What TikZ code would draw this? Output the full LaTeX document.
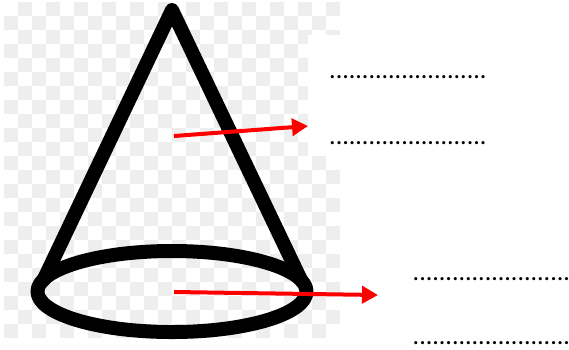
\documentclass[tikz,border=0pt]{standalone}
\usepackage{fontspec}
\setmainfont{Carlito}
\usepackage{xcolor}
\usetikzlibrary{arrows.meta}
\definecolor{chkgrey}{HTML}{EEEEEE}
\definecolor{arrred}{HTML}{FF0000}
\newcommand{\blankrow}{........................}
\tikzset{
  conestroke/.style={draw=black, line width=14pt, line join=round, line cap=round},
  redarrow/.style={-{Triangle[length=16pt,width=17pt]}, line width=4pt, color=arrred},
  blanklabel/.style={anchor=base west, inner sep=0pt, font=\fontsize{26}{28}\selectfont}
}
\begin{document}
\begin{tikzpicture}[x=1pt,y=-1pt]
    \useasboundingbox (0,0) rectangle (569,349);
    % checker background
    \foreach \row in {0,...,23} {
      \foreach \col in {0,...,23} {
        \pgfmathparse{int(mod(\row+\col,2))}
        \ifnum\pgfmathresult=1
          \fill[chkgrey] ({4+14*\col},{2+14*\row}) rectangle ++(14,14);
        \fi
      }
    }
    \fill[white] (308,35) rectangle (341,156);
    % cone
    \draw[conestroke] (43.5,280) -- (172,10) -- (301,280);
    \draw[conestroke] (172,291.5) ellipse [x radius=134.5, y radius=40.5];
    % arrows
    \coordinate (topstart) at (174,136);
    \coordinate (topend) at (308,126);
    \coordinate (basestart) at (174,292);
    \coordinate (baseend) at (378,295);
    \draw[redarrow] (topstart) -- (topend);
    \draw[redarrow] (basestart) -- (baseend);
    % answer lines
    \node[blanklabel] (blankA) at (329,78.5) {\blankrow};
    \node[blanklabel] (blankB) at (329,144.5) {\blankrow};
    \node[blanklabel] (blankC) at (412.5,280.5) {\blankrow};
    \node[blanklabel] (blankD) at (412.5,344.5) {\blankrow};
  \end{tikzpicture}
\end{document}
